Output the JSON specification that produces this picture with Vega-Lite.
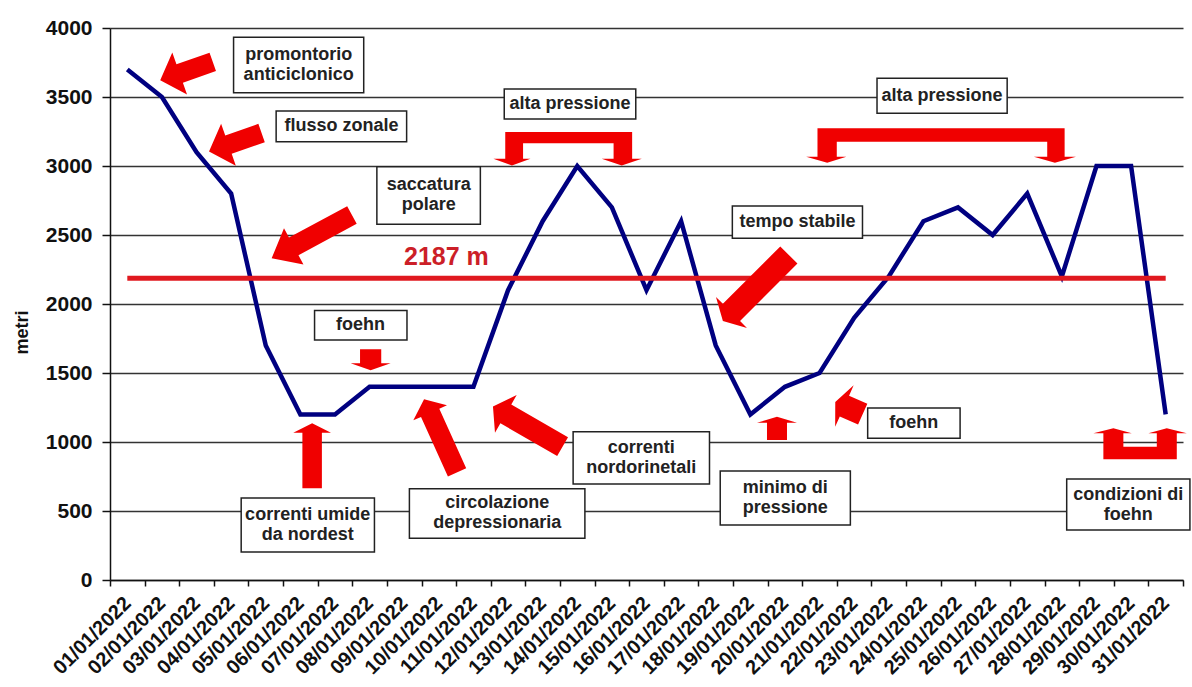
{
  "$schema": "https://vega.github.io/schema/vega-lite/v6.json",
  "width": 1073,
  "height": 552,
  "autosize": {"type": "none"},
  "padding": {"left": 110, "top": 28, "right": 9, "bottom": 107},
  "background": "white",
  "config": {
    "view": {"stroke": null},
    "font": "Liberation Sans",
    "axis": {"labelFont": "Liberation Sans", "labelFontWeight": "bold", "titleFont": "Liberation Sans", "titleFontWeight": "bold", "labelColor": "#111", "titleColor": "#111", "domainColor": "#111", "domainWidth": 1.5, "tickColor": "#111", "tickWidth": 1.5}
  },
  "datasets": {
    "quote": [
      {"data": "01/01/2022", "quota": 3700}, {"data": "02/01/2022", "quota": 3500}, {"data": "03/01/2022", "quota": 3100},
      {"data": "04/01/2022", "quota": 2800}, {"data": "05/01/2022", "quota": 1700}, {"data": "06/01/2022", "quota": 1200},
      {"data": "07/01/2022", "quota": 1200}, {"data": "08/01/2022", "quota": 1400}, {"data": "09/01/2022", "quota": 1400},
      {"data": "10/01/2022", "quota": 1400}, {"data": "11/01/2022", "quota": 1400}, {"data": "12/01/2022", "quota": 2100},
      {"data": "13/01/2022", "quota": 2600}, {"data": "14/01/2022", "quota": 3000}, {"data": "15/01/2022", "quota": 2700},
      {"data": "16/01/2022", "quota": 2100}, {"data": "17/01/2022", "quota": 2600}, {"data": "18/01/2022", "quota": 1700},
      {"data": "19/01/2022", "quota": 1200}, {"data": "20/01/2022", "quota": 1400}, {"data": "21/01/2022", "quota": 1500},
      {"data": "22/01/2022", "quota": 1900}, {"data": "23/01/2022", "quota": 2200}, {"data": "24/01/2022", "quota": 2600},
      {"data": "25/01/2022", "quota": 2700}, {"data": "26/01/2022", "quota": 2500}, {"data": "27/01/2022", "quota": 2800},
      {"data": "28/01/2022", "quota": 2200}, {"data": "29/01/2022", "quota": 3000}, {"data": "30/01/2022", "quota": 3000},
      {"data": "31/01/2022", "quota": 1200}
    ],
    "media": [{"inizio": 1, "fine": 31, "quota": 2187}],
    "etichetta": [{"testo": "2187 m", "pos": 10.22, "quota": 2337}],
    "riquadri": [
      {"testo": "promontorio\nanticiclonico", "x1": 4.07, "x2": 7.83, "quota": 3531, "quota2": 3933, "cx": 5.95, "cy": 3732},
      {"testo": "flusso  zonale", "x1": 5.30, "x2": 9.07, "quota": 3176, "quota2": 3399, "cx": 7.19, "cy": 3288},
      {"testo": "saccatura\npolare", "x1": 8.21, "x2": 11.20, "quota": 2578, "quota2": 2995, "cx": 9.71, "cy": 2787},
      {"testo": "foehn", "x1": 6.41, "x2": 9.08, "quota": 1739, "quota2": 1952, "cx": 7.74, "cy": 1846},
      {"testo": "alta pressione", "x1": 11.89, "x2": 15.69, "quota": 3341, "quota2": 3558, "cx": 13.79, "cy": 3450},
      {"testo": "alta pressione", "x1": 22.66, "x2": 26.42, "quota": 3382, "quota2": 3635, "cx": 24.54, "cy": 3509},
      {"testo": "tempo stabile", "x1": 18.48, "x2": 22.24, "quota": 2476, "quota2": 2710, "cx": 20.36, "cy": 2593},
      {"testo": "correnti umide\nda nordest", "x1": 4.29, "x2": 8.14, "quota": 203, "quota2": 594, "cx": 6.21, "cy": 399},
      {"testo": "circolazione\ndepressionaria", "x1": 9.15, "x2": 14.22, "quota": 302, "quota2": 662, "cx": 11.69, "cy": 482},
      {"testo": "correnti\nnordorinetali", "x1": 13.88, "x2": 17.82, "quota": 696, "quota2": 1075, "cx": 15.85, "cy": 886},
      {"testo": "minimo di\npressione", "x1": 18.13, "x2": 21.89, "quota": 399, "quota2": 790, "cx": 20.01, "cy": 595},
      {"testo": "foehn", "x1": 22.39, "x2": 25.06, "quota": 1027, "quota2": 1246, "cx": 23.72, "cy": 1137},
      {"testo": "condizioni di\nfoehn", "x1": 28.14, "x2": 31.70, "quota": 362, "quota2": 732, "cx": 29.92, "cy": 547}
    ],
    "frecce": [
      {"id": "promontorio", "pos": 2.71, "quota": 3688},
      {"id": "flusso", "pos": 4.12, "quota": 3172},
      {"id": "saccatura", "pos": 6.33, "quota": 2488},
      {"id": "foehn1", "pos": 8.03, "quota": 1596},
      {"id": "umide", "pos": 6.34, "quota": 900},
      {"id": "circolazione", "pos": 10.05, "quota": 1045},
      {"id": "nordorientali", "pos": 12.57, "quota": 1112},
      {"id": "stabile", "pos": 19.16, "quota": 2116},
      {"id": "minimo", "pos": 19.77, "quota": 1099},
      {"id": "foehn2", "pos": 21.85, "quota": 1246},
      {"id": "alta1", "pos": 13.72, "quota": 3128},
      {"id": "alta2", "pos": 24.51, "quota": 3146},
      {"id": "condizioni", "pos": 30.26, "quota": 987}
    ]
  },
  "resolve": {"scale": {"x": "independent"}},
  "layer": [
    {
      "data": {"name": "quote"},
      "mark": {"type": "line", "color": "#000080", "strokeWidth": 4.5, "strokeJoin": "miter"},
      "encoding": {
        "x": {"field": "data", "type": "ordinal", "sort": null,
          "scale": {"type": "band", "paddingInner": 0, "paddingOuter": 0},
          "axis": {"title": null, "labelAngle": -45, "labelAlign": "right", "labelBaseline": "middle", "labelFontSize": 20, "labelPadding": 14, "tickSize": 6, "tickBand": "extent", "labelOverlap": false, "labelBound": false, "grid": false}},
        "y": {"field": "quota", "type": "quantitative", "title": "metri",
          "scale": {"domain": [0, 4000], "nice": false},
          "axis": {"values": [0, 500, 1000, 1500, 2000, 2500, 3000, 3500, 4000], "format": "d", "grid": true, "gridColor": "#333", "gridWidth": 1.5, "tickSize": 8, "labelFontSize": 21, "labelPadding": 10, "titleFontSize": 18, "titleAngle": 270, "titleX": -88, "titleY": 304, "titleAlign": "center", "titleBaseline": "middle"}}
      }
    },
    {
      "data": {"name": "riquadri"},
      "mark": {"type": "rect", "fill": "white", "stroke": "#222", "strokeWidth": 1.5},
      "encoding": {
        "x": {"field": "x1", "type": "quantitative", "scale": {"domain": [0.5, 31.5], "nice": false, "zero": false}, "axis": null},
        "x2": {"field": "x2"},
        "y": {"field": "quota", "type": "quantitative", "title": "metri"},
        "y2": {"field": "quota2"}
      }
    },
    {
      "data": {"name": "riquadri"},
      "transform": [{"filter": "indexof(datum.testo, '\\n') < 0"}],
      "mark": {"type": "text", "font": "Liberation Sans", "fontWeight": "bold", "fontSize": 18, "color": "#222", "align": "center", "baseline": "middle"},
      "encoding": {
        "x": {"field": "cx", "type": "quantitative", "scale": {"domain": [0.5, 31.5], "nice": false, "zero": false}, "axis": null},
        "y": {"field": "cy", "type": "quantitative", "title": "metri"},
        "text": {"field": "testo"}
      }
    },
    {
      "data": {"name": "riquadri"},
      "transform": [{"filter": "indexof(datum.testo, '\\n') >= 0"}],
      "mark": {"type": "text", "font": "Liberation Sans", "fontWeight": "bold", "fontSize": 18, "color": "#222", "align": "center", "baseline": "middle", "lineBreak": "\n", "lineHeight": 20, "dy": -10},
      "encoding": {
        "x": {"field": "cx", "type": "quantitative", "scale": {"domain": [0.5, 31.5], "nice": false, "zero": false}, "axis": null},
        "y": {"field": "cy", "type": "quantitative", "title": "metri"},
        "text": {"field": "testo"}
      }
    },
    {
      "data": {"name": "media"},
      "mark": {"type": "rule", "color": "#e0191f", "strokeWidth": 5},
      "encoding": {
        "x": {"field": "inizio", "type": "quantitative", "scale": {"domain": [0.5, 31.5], "nice": false, "zero": false}, "axis": null},
        "x2": {"field": "fine"},
        "y": {"field": "quota", "type": "quantitative", "title": "metri"}
      }
    },
    {
      "data": {"name": "etichetta"},
      "mark": {"type": "text", "font": "Liberation Sans", "fontWeight": "bold", "fontSize": 25, "color": "#cc1f28", "align": "center", "baseline": "middle"},
      "encoding": {
        "x": {"field": "pos", "type": "quantitative", "scale": {"domain": [0.5, 31.5], "nice": false, "zero": false}, "axis": null},
        "y": {"field": "quota", "type": "quantitative", "title": "metri"},
        "text": {"field": "testo"}
      }
    },
    {
      "data": {"name": "frecce"},
      "transform": [{"filter": "datum.id == 'promontorio' || datum.id == 'flusso'"}],
      "mark": {"type": "point", "filled": true, "color": "#f00000", "opacity": 1, "strokeWidth": 0, "size": 3100, "angle": 160.7,
        "shape": "M1,0L0.26,-0.8L0.26,-0.35L-1,-0.35L-1,0.35L0.26,0.35L0.26,0.8Z"},
      "encoding": {
        "x": {"field": "pos", "type": "quantitative", "scale": {"domain": [0.5, 31.5], "nice": false, "zero": false}, "axis": null},
        "y": {"field": "quota", "type": "quantitative", "title": "metri"}
      }
    },
    {
      "data": {"name": "frecce"},
      "transform": [{"filter": "datum.id == 'saccatura'"}],
      "mark": {"type": "point", "filled": true, "color": "#f00000", "opacity": 1, "strokeWidth": 0, "size": 8317, "angle": 151.7,
        "shape": "M1,0L0.45,-0.45L0.45,-0.22L-1,-0.22L-1,0.22L0.45,0.22L0.45,0.45Z"},
      "encoding": {
        "x": {"field": "pos", "type": "quantitative", "scale": {"domain": [0.5, 31.5], "nice": false, "zero": false}, "axis": null},
        "y": {"field": "quota", "type": "quantitative", "title": "metri"}
      }
    },
    {
      "data": {"name": "frecce"},
      "transform": [{"filter": "datum.id == 'foehn1'"}],
      "mark": {"type": "point", "filled": true, "color": "#f00000", "opacity": 1, "strokeWidth": 0, "size": 1600, "angle": 90,
        "shape": "M0.53,0L0.18,-1L0.18,-0.53L-0.53,-0.53L-0.53,0.53L0.18,0.53L0.18,1Z"},
      "encoding": {
        "x": {"field": "pos", "type": "quantitative", "scale": {"domain": [0.5, 31.5], "nice": false, "zero": false}, "axis": null},
        "y": {"field": "quota", "type": "quantitative", "title": "metri"}
      }
    },
    {
      "data": {"name": "frecce"},
      "transform": [{"filter": "datum.id == 'umide'"}],
      "mark": {"type": "point", "filled": true, "color": "#f00000", "opacity": 1, "strokeWidth": 0, "size": 4225, "angle": 270,
        "shape": "M1,0L0.71,-0.58L0.71,-0.3L-1,-0.3L-1,0.3L0.71,0.3L0.71,0.58Z"},
      "encoding": {
        "x": {"field": "pos", "type": "quantitative", "scale": {"domain": [0.5, 31.5], "nice": false, "zero": false}, "axis": null},
        "y": {"field": "quota", "type": "quantitative", "title": "metri"}
      }
    },
    {
      "data": {"name": "frecce"},
      "transform": [{"filter": "datum.id == 'circolazione'"}],
      "mark": {"type": "point", "filled": true, "color": "#f00000", "opacity": 1, "strokeWidth": 0, "size": 6432, "angle": 245.7,
        "shape": "M1,0L0.63,-0.46L0.63,-0.25L-1,-0.25L-1,0.25L0.63,0.25L0.63,0.46Z"},
      "encoding": {
        "x": {"field": "pos", "type": "quantitative", "scale": {"domain": [0.5, 31.5], "nice": false, "zero": false}, "axis": null},
        "y": {"field": "quota", "type": "quantitative", "title": "metri"}
      }
    },
    {
      "data": {"name": "frecce"},
      "transform": [{"filter": "datum.id == 'nordorientali'"}],
      "mark": {"type": "point", "filled": true, "color": "#f00000", "opacity": 1, "strokeWidth": 0, "size": 6464, "angle": 210,
        "shape": "M1,0L0.63,-0.54L0.63,-0.27L-1,-0.27L-1,0.27L0.63,0.27L0.63,0.54Z"},
      "encoding": {
        "x": {"field": "pos", "type": "quantitative", "scale": {"domain": [0.5, 31.5], "nice": false, "zero": false}, "axis": null},
        "y": {"field": "quota", "type": "quantitative", "title": "metri"}
      }
    },
    {
      "data": {"name": "frecce"},
      "transform": [{"filter": "datum.id == 'stabile'"}],
      "mark": {"type": "point", "filled": true, "color": "#f00000", "opacity": 1, "strokeWidth": 0, "size": 8705, "angle": 135,
        "shape": "M1,0L0.74,-0.47L0.74,-0.26L-1,-0.26L-1,0.26L0.74,0.26L0.74,0.47Z"},
      "encoding": {
        "x": {"field": "pos", "type": "quantitative", "scale": {"domain": [0.5, 31.5], "nice": false, "zero": false}, "axis": null},
        "y": {"field": "quota", "type": "quantitative", "title": "metri"}
      }
    },
    {
      "data": {"name": "frecce"},
      "transform": [{"filter": "datum.id == 'minimo'"}],
      "mark": {"type": "point", "filled": true, "color": "#f00000", "opacity": 1, "strokeWidth": 0, "size": 1600, "angle": 270,
        "shape": "M0.58,0L0.28,-1L0.28,-0.5L-0.58,-0.5L-0.58,0.5L0.28,0.5L0.28,1Z"},
      "encoding": {
        "x": {"field": "pos", "type": "quantitative", "scale": {"domain": [0.5, 31.5], "nice": false, "zero": false}, "axis": null},
        "y": {"field": "quota", "type": "quantitative", "title": "metri"}
      }
    },
    {
      "data": {"name": "frecce"},
      "transform": [{"filter": "datum.id == 'foehn2'"}],
      "mark": {"type": "point", "filled": true, "color": "#f00000", "opacity": 1, "strokeWidth": 0, "size": 2070, "angle": 204,
        "shape": "M0.66,0L0.22,-1L0.22,-0.5L-0.66,-0.5L-0.66,0.5L0.22,0.5L0.22,1Z"},
      "encoding": {
        "x": {"field": "pos", "type": "quantitative", "scale": {"domain": [0.5, 31.5], "nice": false, "zero": false}, "axis": null},
        "y": {"field": "quota", "type": "quantitative", "title": "metri"}
      }
    },
    {
      "data": {"name": "frecce"},
      "transform": [{"filter": "datum.id == 'alta1'"}],
      "mark": {"type": "point", "filled": true, "color": "#f00000", "opacity": 1, "strokeWidth": 0, "size": 22023, "angle": 0,
        "shape": "M-0.84,-0.22L0.87,-0.22L0.87,0.14L1,0.14L0.73,0.23L0.46,0.14L0.62,0.14L0.62,-0.07L-0.6,-0.07L-0.6,0.14L-0.5,0.14L-0.75,0.23L-1,0.14L-0.84,0.14Z"},
      "encoding": {
        "x": {"field": "pos", "type": "quantitative", "scale": {"domain": [0.5, 31.5], "nice": false, "zero": false}, "axis": null},
        "y": {"field": "quota", "type": "quantitative", "title": "metri"}
      }
    },
    {
      "data": {"name": "frecce"},
      "transform": [{"filter": "datum.id == 'alta2'"}],
      "mark": {"type": "point", "filled": true, "color": "#f00000", "opacity": 1, "strokeWidth": 0, "size": 72792, "angle": 0,
        "shape": "M-0.916,-0.13L0.916,-0.13L0.916,0.081L1,0.081L0.844,0.125L0.688,0.081L0.787,0.081L0.787,-0.03L-0.773,-0.03L-0.773,0.081L-0.702,0.081L-0.844,0.125L-1,0.081L-0.916,0.081Z"},
      "encoding": {
        "x": {"field": "pos", "type": "quantitative", "scale": {"domain": [0.5, 31.5], "nice": false, "zero": false}, "axis": null},
        "y": {"field": "quota", "type": "quantitative", "title": "metri"}
      }
    },
    {
      "data": {"name": "frecce"},
      "transform": [{"filter": "datum.id == 'condizioni'"}],
      "mark": {"type": "point", "filled": true, "color": "#f00000", "opacity": 1, "strokeWidth": 0, "size": 8724, "angle": 0,
        "shape": "M-0.572,-0.332L-0.178,-0.225L-0.358,-0.225L-0.358,0.062L0.358,0.062L0.358,-0.225L0.178,-0.225L0.572,-0.332L1,-0.225L0.786,-0.225L0.786,0.332L-0.786,0.332L-0.786,-0.225L-1,-0.225Z"},
      "encoding": {
        "x": {"field": "pos", "type": "quantitative", "scale": {"domain": [0.5, 31.5], "nice": false, "zero": false}, "axis": null},
        "y": {"field": "quota", "type": "quantitative", "title": "metri"}
      }
    }
  ]
}
